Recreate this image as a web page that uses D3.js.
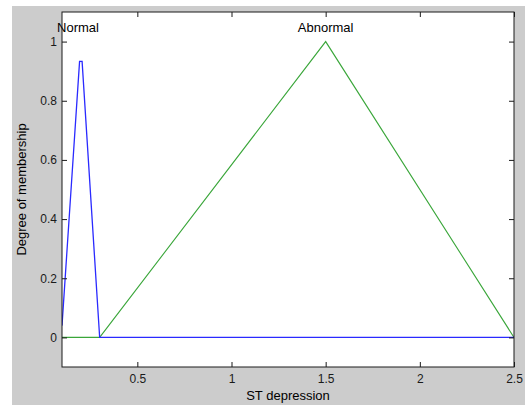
<!DOCTYPE html>
<html>
<head>
<meta charset="utf-8">
<script src="https://cdn.jsdelivr.net/npm/d3@7"></script>
<style>
  html, body { margin: 0; padding: 0; background: #ffffff; }
  svg { display: block; }
  text { font-family: "Liberation Sans", Arial, sans-serif; }
</style>
</head>
<body>
<svg id="chart" width="525" height="405"></svg>
<script>
// ---- data ----
const xDomain = [0.1, 2.5];
const yDomain = [-0.1, 1.1];
const xTicks = [0.5, 1, 1.5, 2, 2.5];
const xTickLabels = ["0.5", "1", "1.5", "2", "2.5"];
const yTicks = [0, 0.2, 0.4, 0.6, 0.8, 1];
const yTickLabels = ["0", "0.2", "0.4", "0.6", "0.8", "1"];

const mfNames = ["Normal", "Abnormal"];
const mfLabelX = [0.185, 1.5];
const normalX = [0.1, 0.1933, 0.2067, 0.3, 2.5];
const normalY = [0.04, 0.933, 0.933, 0, 0];
const abnormalX = [0.1, 0.3, 1.5, 2.5];
const abnormalY = [0, 0, 1, 0];

const xLabel = "ST depression";
const yLabel = "Degree of membership";

// ---- layout ----
const svg = d3.select("#chart");
const W = 525, H = 405;
const plot = { left: 62, top: 12, right: 514, bottom: 367 };

svg.append("rect").attr("x", 12).attr("y", 6)
  .attr("width", W - 12).attr("height", H - 6).attr("fill", "#cccccc");
svg.append("rect").attr("x", plot.left).attr("y", plot.top)
  .attr("width", plot.right - plot.left).attr("height", plot.bottom - plot.top)
  .attr("fill", "#ffffff");

const x = d3.scaleLinear().domain(xDomain).range([plot.left, plot.right]);
const y = d3.scaleLinear().domain(yDomain).range([plot.bottom, plot.top]);

const line = d3.line().x(d => x(d[0])).y(d => y(d[1]));

const clipId = "plotclip";
svg.append("clipPath").attr("id", clipId).append("rect")
  .attr("x", plot.left).attr("y", plot.top)
  .attr("width", plot.right - plot.left).attr("height", plot.bottom - plot.top);

const g = svg.append("g").attr("clip-path", `url(#${clipId})`);
g.append("path")
  .datum(abnormalX.map((v, i) => [v, abnormalY[i]]))
  .attr("d", line).attr("fill", "none")
  .attr("stroke", "#3aa63a").attr("stroke-width", 1.1);
g.append("path")
  .datum(normalX.map((v, i) => [v, normalY[i]]))
  .attr("d", line).attr("fill", "none")
  .attr("stroke", "#2a2aff").attr("stroke-width", 1.3);

// ---- axes ----
const axisColor = "#1a1a1a";
const tickLen = 5;

const xAxisB = d3.axisBottom(x).tickValues(xTicks)
  .tickFormat((d, i) => xTickLabels[i]).tickSizeInner(-tickLen).tickSizeOuter(0).tickPadding(7);
const gxb = svg.append("g").attr("transform", `translate(0,${plot.bottom})`).call(xAxisB);
const xAxisT = d3.axisTop(x).tickValues(xTicks).tickFormat("").tickSizeInner(-tickLen).tickSizeOuter(0);
const gxt = svg.append("g").attr("transform", `translate(0,${plot.top})`).call(xAxisT);

const yAxisL = d3.axisLeft(y).tickValues(yTicks)
  .tickFormat((d, i) => yTickLabels[i]).tickSizeInner(-tickLen).tickSizeOuter(0).tickPadding(5);
const gyl = svg.append("g").attr("transform", `translate(${plot.left},0)`).call(yAxisL);
const yAxisR = d3.axisRight(y).tickValues(yTicks).tickFormat("").tickSizeInner(-tickLen).tickSizeOuter(0);
const gyr = svg.append("g").attr("transform", `translate(${plot.right},0)`).call(yAxisR);

[gxb, gxt, gyl, gyr].forEach(a => {
  a.select(".domain").remove();
  a.selectAll(".tick line").attr("stroke", axisColor);
  a.selectAll(".tick text").attr("fill", "#1a1a1a")
    .style("font-family", "'Liberation Sans', Arial, sans-serif").style("font-size", "12px");
});

// box
svg.append("rect").attr("x", plot.left).attr("y", plot.top)
  .attr("width", plot.right - plot.left).attr("height", plot.bottom - plot.top)
  .attr("fill", "none").attr("stroke", axisColor).attr("stroke-width", 1);

// ---- mf labels ----
mfNames.forEach((n, i) => {
  svg.append("text").attr("x", x(mfLabelX[i])).attr("y", y(1) - 10)
    .attr("text-anchor", "middle").style("font-size", "13px").attr("fill", "#000")
    .text(n);
});

// ---- axis titles ----
svg.append("text").attr("x", (plot.left + plot.right) / 2).attr("y", 400)
  .attr("text-anchor", "middle").style("font-size", "13px").attr("fill", "#000")
  .text(xLabel);
svg.append("text")
  .attr("transform", `translate(26,${(plot.top + plot.bottom) / 2}) rotate(-90)`)
  .attr("text-anchor", "middle").style("font-size", "13px").attr("fill", "#000")
  .text(yLabel);
</script>
</body>
</html>
